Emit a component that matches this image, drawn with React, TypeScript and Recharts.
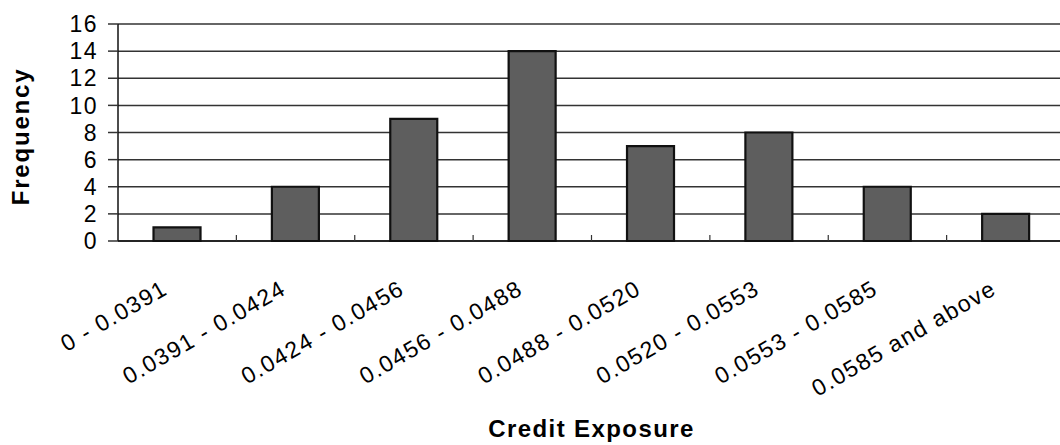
import React from 'react';
import { BarChart, Bar, XAxis, YAxis, CartesianGrid } from 'recharts';

// Histogram of credit exposure bins
const bins: string[] = [
  '0 - 0.0391',
  '0.0391 - 0.0424',
  '0.0424 - 0.0456',
  '0.0456 - 0.0488',
  '0.0488 - 0.0520',
  '0.0520 - 0.0553',
  '0.0553 - 0.0585',
  '0.0585 and above',
];
const frequencies: number[] = [1, 4, 9, 14, 7, 8, 4, 2];
const yTicks: number[] = [0, 2, 4, 6, 8, 10, 12, 14, 16];

const data = bins.map((bin, i) => ({ bin, frequency: frequencies[i] }));

const FONT = '"Liberation Sans", Arial, Helvetica, sans-serif';

// Category label, plus a small inward tick on the right edge of each bin
const CategoryTick = (props: any) => {
  const { x, y, payload, index } = props;
  const half = payload && typeof payload.offset === 'number' ? payload.offset : 0;
  const ax = x - 8;
  const ay = y + 52;
  return (
    <g>
      {half > 0 && index < bins.length - 1 ? (
        <line
          x1={x + half}
          x2={x + half}
          y1={y}
          y2={y - 6}
          stroke="#333"
          strokeWidth={1.2}
        />
      ) : null}
      <text
        x={ax}
        y={ay}
        textAnchor="end"
        transform={`rotate(-30, ${ax}, ${ay})`}
        fontFamily={FONT}
        fontSize={23}
        letterSpacing={1.5}
        fill="#000"
      >
        {payload.value}
      </text>
    </g>
  );
};

const XTitle = (props: any) => {
  const { viewBox } = props;
  return (
    <text
      x={viewBox.x + viewBox.width / 2}
      y={viewBox.y + 196}
      textAnchor="middle"
      fontFamily={FONT}
      fontWeight="bold"
      fontSize={24}
      letterSpacing={1.4}
      fill="#000"
    >
      Credit Exposure
    </text>
  );
};

const YTitle = (props: any) => {
  const { viewBox } = props;
  const cx = 29;
  const cy = viewBox.y + viewBox.height / 2 + 4;
  return (
    <text
      x={cx}
      y={cy}
      textAnchor="middle"
      transform={`rotate(-90, ${cx}, ${cy})`}
      fontFamily={FONT}
      fontWeight="bold"
      fontSize={24}
      letterSpacing={1.8}
      fill="#000"
    >
      Frequency
    </text>
  );
};

export default function App() {
  return (
    <div
      style={{
        position: 'fixed',
        left: 0,
        top: 0,
        width: 1060,
        height: 445,
        overflow: 'hidden',
        background: '#fff',
      }}
    >
      <BarChart
        width={1080}
        height={445}
        data={data}
        margin={{ top: 24, right: 15, left: 0, bottom: 0 }}
        barCategoryGap="30%"
      >
        <CartesianGrid
          horizontal
          vertical={false}
          stroke="#333"
          strokeWidth={1.5}
        />
        <XAxis
          dataKey="bin"
          height={204}
          tickSize={0}
          tickMargin={0}
          tickLine={false}
          axisLine={{ stroke: '#111', strokeWidth: 1.5 }}
          interval={0}
          tick={<CategoryTick />}
          label={<XTitle />}
        />
        <YAxis
          width={118}
          domain={[0, 16]}
          ticks={yTicks}
          interval={0}
          tickSize={10}
          tickMargin={10}
          axisLine={{ stroke: '#111', strokeWidth: 1.5 }}
          tickLine={{ stroke: '#333', strokeWidth: 1.5 }}
          tick={{ fontFamily: FONT, fontSize: 23, fill: '#000', letterSpacing: 1.5 }}
          label={<YTitle />}
        />
        <Bar
          dataKey="frequency"
          fill="#5e5e5e"
          stroke="#111"
          strokeWidth={2.2}
          isAnimationActive={false}
        />
      </BarChart>
    </div>
  );
}
